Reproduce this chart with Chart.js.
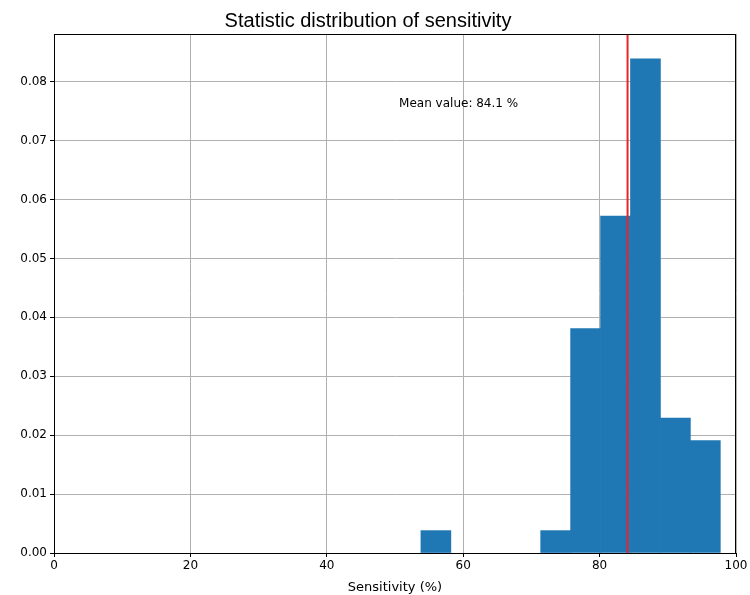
<!DOCTYPE html>
<html>
<head>
<meta charset="utf-8">
<script src="https://cdn.jsdelivr.net/npm/chart.js@4"></script>
<style>
  html, body { margin: 0; padding: 0; background: #fff; }
  #wrap { width: 750px; height: 595px; }
</style>
</head>
<body>
<div id="wrap"><canvas id="myChart"></canvas></div>
<script>
// histogram bins (sensitivity %), density per bin
var binEdges = [53.8, 58.19, 62.58, 66.97, 71.36, 75.75, 80.14, 84.53, 88.92, 93.31, 97.7];
var density = [0.0038, 0, 0, 0, 0.0038, 0.0381, 0.0572, 0.0839, 0.0229, 0.0191];
var meanValue = 84.1;
var meanLabel = 'Mean value: 84.1 %';
var meanLabelPos = {x: 50.6, y: 0.0763};
var xTicks = [0, 20, 40, 60, 80, 100];
var yTicks = [0, 0.01, 0.02, 0.03, 0.04, 0.05, 0.06, 0.07, 0.08];

var points = [];
for (var i = 0; i < density.length; i++) {
  points.push({x: (binEdges[i] + binEdges[i + 1]) / 2, y: density[i] > 0 ? density[i] : null});
}

var overlay = {
  id: 'overlay',
  afterDraw: function(chart) {
    var c = chart.ctx, a = chart.chartArea;
    var xs = chart.scales.x, ys = chart.scales.y;
    c.save();
    // mean line
    var mx = xs.getPixelForValue(meanValue);
    c.strokeStyle = '#e8262a';
    c.lineWidth = 2;
    c.beginPath();
    c.moveTo(mx, a.top);
    c.lineTo(mx, a.bottom);
    c.stroke();
    // frame
    c.strokeStyle = '#000';
    c.lineWidth = 1;
    c.strokeRect(Math.round(a.left) + 0.5, Math.round(a.top) + 0.5, Math.round(a.right - a.left) - 1, Math.round(a.bottom - a.top));
    // label
    c.fillStyle = '#000';
    c.font = '12px "DejaVu Sans"';
    c.textAlign = 'left';
    c.textBaseline = 'middle';
    c.fillText(meanLabel, xs.getPixelForValue(meanLabelPos.x), ys.getPixelForValue(meanLabelPos.y));
    c.restore();
  }
};

var ctx = document.getElementById('myChart').getContext('2d');
var myChart = new Chart(ctx, {
  type: 'bar',
  data: {
    datasets: [{
      data: points,
      backgroundColor: '#1f77b4',
      borderWidth: 0,
      barPercentage: 1.0,
      categoryPercentage: 1.0
    }]
  },
  options: {
    responsive: true,
    maintainAspectRatio: false,
    animation: false,
    layout: { padding: { left: 0, right: 14, top: 0, bottom: 0 } },
    scales: {
      x: {
        type: 'linear',
        min: 0,
        max: 100,
        offset: false,
        z: 1,
        afterFit: function(s) { s.height = 42; },
        afterBuildTicks: function(s) { s.ticks = xTicks.map(function(v) { return {value: v}; }); },
        grid: { color: '#b0b0b0', lineWidth: 1, tickColor: '#000', tickLength: 4, offset: false },
        border: { color: '#000', width: 1 },
        ticks: { color: '#000', font: { family: 'DejaVu Sans', size: 12 }, padding: 2, maxRotation: 0 },
        title: {
          display: true,
          text: 'Sensitivity (%)',
          color: '#000',
          font: { family: 'DejaVu Sans', size: 13 },
          padding: { top: 1, bottom: 0 }
        }
      },
      y: {
        min: 0,
        max: 0.0881,
        z: 1,
        afterFit: function(s) { s.width = 54; },
        afterBuildTicks: function(s) { s.ticks = yTicks.map(function(v) { return {value: v}; }); },
        grid: { color: '#b0b0b0', lineWidth: 1, tickColor: '#000', tickLength: 4 },
        border: { color: '#000', width: 1 },
        ticks: {
          color: '#000',
          font: { family: 'DejaVu Sans', size: 12 },
          padding: 3,
          callback: function(v) { return v.toFixed(2); }
        }
      }
    },
    plugins: {
      legend: { display: false },
      tooltip: { enabled: false },
      title: {
        display: true,
        text: 'Statistic distribution of sensitivity',
        color: '#000',
        font: { family: 'Liberation Sans', size: 20, weight: 'normal', lineHeight: 1.2 },
        padding: { top: 9, bottom: 1 }
      }
    }
  },
  plugins: [overlay]
});
</script>
</body>
</html>
